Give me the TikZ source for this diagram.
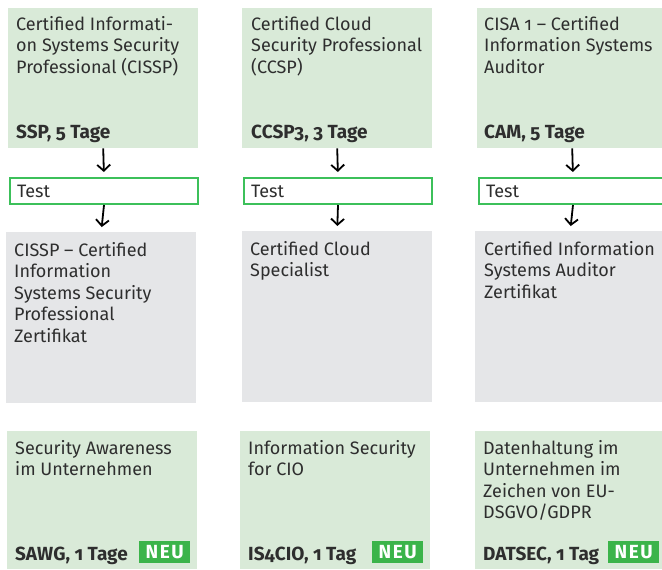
\documentclass[tikz,border=0pt]{standalone}
\usepackage{fontspec}
\setmainfont{Fira Sans}[Numbers=OldStyle]
\usetikzlibrary{arrows.meta}
\definecolor{boxgreen}{HTML}{D9EAD8}
\definecolor{boxgrey}{HTML}{E5E6E8}
\definecolor{neugreen}{HTML}{3BB44A}
\definecolor{testgreen}{HTML}{3CC05A}
\definecolor{txt}{HTML}{2E2E2E}
\begin{document}
\begin{tikzpicture}[x=1pt,y=-1pt,
  greenbox/.style={fill=boxgreen, draw=none, minimum width=190pt, anchor=north west, inner sep=0pt},
  greybox/.style={fill=boxgrey, draw=none, minimum width=190pt, anchor=north west, inner sep=0pt},
  lbl/.style={anchor=north west, inner sep=0pt, align=left, text=txt, font=\fontsize{18}{21.5}\selectfont},
  code/.style={anchor=base west, inner sep=0pt, text=txt, font=\fontsize{19}{21.5}\selectfont\bfseries},
  testbox/.style={draw=testgreen, line width=2pt, fill=white, minimum width=188pt, minimum height=26pt, anchor=north west, text width=174pt, align=left, inner xsep=7pt, text=txt, font=\fontsize{18}{21.5}\selectfont},
  neu/.style={fill=neugreen, text=white, minimum width=51pt, minimum height=22pt, anchor=north west, inner sep=0pt, font=\fontsize{19}{20}\selectfont\bfseries\addfontfeature{LetterSpace=8}},
  arr/.style={draw=black, line width=1.8pt, -{Straight Barb[length=6pt,width=13pt,line width=1.8pt]}}
]
\useasboundingbox (0,0) rectangle (662,570);
\clip (0,0) rectangle (662,570);

% column 1
\node[greenbox, minimum height=140pt] (g1) at (8,8) {};
\node[lbl] (g1t) at (16,16) {Certified Informati-\\on Systems Security\\Professional (CISSP)};
\node[code] (g1c) at (16,138) {SSP, 5 Tage};
\node[testbox] (t1) at (9,177) {Test};
\node[greybox, minimum height=171pt] (r1) at (6,232) {};
\node[lbl] (r1t) at (14,242) {CISSP – Certified\\Information\\Systems Security\\Professional\\Zertifikat};
\draw[arr, shorten >=5pt] (g1.south) -- (t1.north);
\draw[arr, shorten >=5pt] (t1.south) -- (r1.north);

% column 2
\node[greenbox, minimum height=140pt] (g2) at (242,8) {};
\node[lbl] (g2t) at (251,16) {Certified Cloud\\Security Professional\\(CCSP)};
\node[code] (g2c) at (251,138) {CCSP3, 3 Tage};
\node[testbox] (t2) at (243,177) {Test};
\node[greybox, minimum height=171pt] (r2) at (242,231) {};
\node[lbl] (r2t) at (250,241) {Certified Cloud\\Specialist};
\draw[arr, shorten >=5pt] (g2.south) -- (t2.north);
\draw[arr, shorten >=5pt] (t2.south) -- (r2.north);

% column 3
\node[greenbox, minimum height=140pt] (g3) at (477,8) {};
\node[lbl] (g3t) at (484,16) {CISA 1 – Certified\\Information Systems\\Auditor};
\node[code] (g3c) at (484,138) {CAM, 5 Tage};
\node[testbox] (t3) at (478,177) {Test};
\node[greybox, minimum height=171pt] (r3) at (475,231) {};
\node[lbl] (r3t) at (484,241) {Certified Information\\Systems Auditor\\Zertifikat};
\draw[arr, shorten >=5pt] (g3.south) -- (t3.north);
\draw[arr, shorten >=5pt] (t3.south) -- (r3.north);

% bottom row
\node[greenbox, minimum height=138pt] (b1) at (7,431) {};
\node[lbl] (b1t) at (15,440) {Security Awareness\\im Unternehmen};
\node[code] (b1c) at (15,560) {SAWG, 1 Tage};
\node[neu] (n1) at (139,541) {NEU};

\node[greenbox, minimum height=138pt] (b2) at (240,431) {};
\node[lbl] (b2t) at (248,440) {Information Security\\for CIO};
\node[code] (b2c) at (248,560) {IS4CIO, 1 Tag};
\node[neu] (n2) at (372,541) {NEU};

\node[greenbox, minimum height=138pt] (b3) at (475,431) {};
\node[lbl] (b3t) at (483,440) {Datenhaltung im\\Unternehmen im\\Zeichen von EU-\\DSGVO/GDPR};
\node[code] (b3c) at (483,560) {DATSEC, 1 Tag};
\node[neu] (n3) at (608,541) {NEU};
\end{tikzpicture}
\end{document}
